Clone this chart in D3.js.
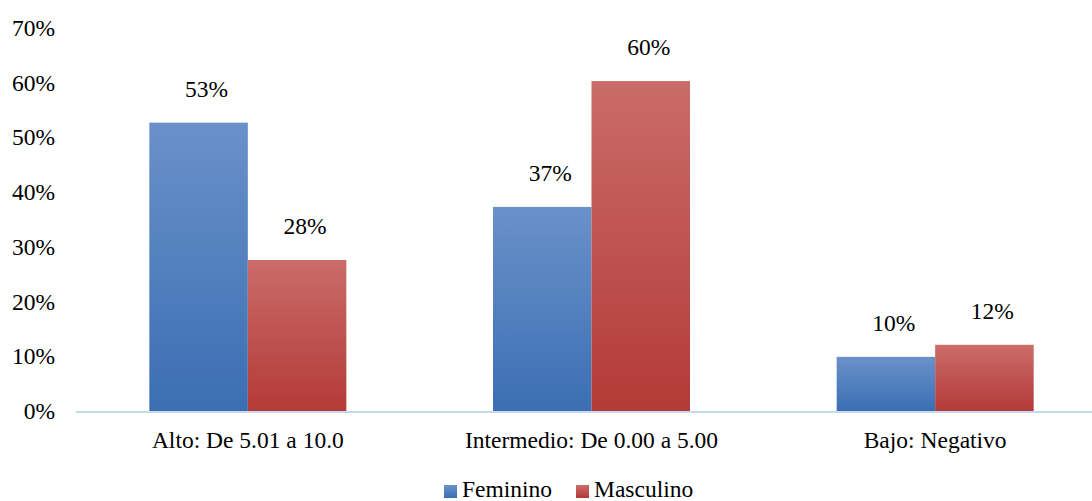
<!DOCTYPE html>
<html><head><meta charset="utf-8">
<script src="https://cdn.jsdelivr.net/npm/d3@7"></script>
<style>html,body{margin:0;padding:0;background:#fff;} svg{display:block;}</style>
</head><body>
<svg id="chart" width="1092" height="501"></svg>
<script>
const categories = ["Alto: De 5.01 a 10.0", "Intermedio: De 0.00 a 5.00", "Bajo: Negativo"];
const seriesNames = ["Femenino", "Masculino"];
const femenino = [52.7, 37.3, 9.9];
const masculino = [27.6, 60.3, 12.1];
const yTicks = [0, 10, 20, 30, 40, 50, 60, 70];

const legendLabels = ["Feminino", "Masculino"];
const seriesValues = [femenino, masculino];

(function () {
const svg = d3.select("#chart");
const W = 1092, H = 501;
const mLeft = 76, mRight = 1107, mTop = 28, mBottom = 411;
const fs = "23.5px";
const ff = '"Liberation Serif"';

const defs = svg.append("defs");
const grads = [["#6a91c9", "#3b6eb3"], ["#ca6c69", "#b33a37"]];
grads.forEach((g, i) => {
  const lg = defs.append("linearGradient").attr("id", "g" + i)
    .attr("x1", 0).attr("y1", 0).attr("x2", 0).attr("y2", 1);
  lg.append("stop").attr("offset", "0%").attr("stop-color", g[0]);
  lg.append("stop").attr("offset", "100%").attr("stop-color", g[1]);
});

const y = d3.scaleLinear().domain([0, 70]).range([mBottom, mTop]);
const x0 = d3.scaleBand().domain(categories).range([mLeft, mRight]).padding(0);
const barW = 98.5;
const x1 = d3.scaleBand().domain(seriesNames)
  .range([x0.bandwidth() / 2 - barW, x0.bandwidth() / 2 + barW]).padding(0);

function txt(sel) {
  return sel.style("font-family", ff).style("font-size", fs).attr("fill", "#000");
}

// y tick labels
svg.append("g").selectAll("text").data(yTicks).join("text")
  .attr("x", 55).attr("y", d => y(d) + 8)
  .attr("text-anchor", "end")
  .call(txt)
  .text(d => d + "%");

// bars
const groups = svg.append("g").selectAll("g").data(categories).join("g")
  .attr("transform", d => `translate(${x0(d)},0)`);
const rows = (c, ci) => seriesNames.map((s, si) => ({s, si, v: seriesValues[si][ci]}));
groups.selectAll("rect").data(rows)
  .join("rect")
  .attr("x", d => x1(d.s)).attr("width", x1.bandwidth())
  .attr("y", d => y(d.v)).attr("height", d => y(0) - y(d.v))
  .attr("fill", d => `url(#g${d.si})`);
groups.selectAll("text.lbl").data(rows)
  .join("text").attr("class", "lbl")
  .attr("x", d => x1(d.s) + x1.bandwidth() / 2 + 8)
  .attr("y", d => y(d.v) - 26)
  .attr("text-anchor", "middle")
  .call(txt)
  .text(d => Math.round(d.v) + "%");

// axis line
svg.append("line").attr("x1", mLeft).attr("x2", W).attr("y1", y(0) + 1).attr("y2", y(0) + 1)
  .attr("stroke", "#c7d9ef").attr("stroke-width", 2);

// category labels
svg.append("g").selectAll("text").data(categories).join("text")
  .attr("x", d => x0(d) + x0.bandwidth() / 2).attr("y", 448)
  .attr("text-anchor", "middle")
  .call(txt)
  .text(d => d);

// legend
const legX = [444, 576];
const leg = svg.append("g").selectAll("g").data(legendLabels).join("g")
  .attr("transform", (d, i) => `translate(${legX[i]},0)`);
leg.append("rect").attr("x", 0).attr("y", 485).attr("width", 13).attr("height", 13)
  .attr("fill", (d, i) => `url(#g${i})`);
leg.append("text").attr("x", 18).attr("y", 497)
  .call(txt)
  .text(d => d);
})();
</script>
</body></html>
